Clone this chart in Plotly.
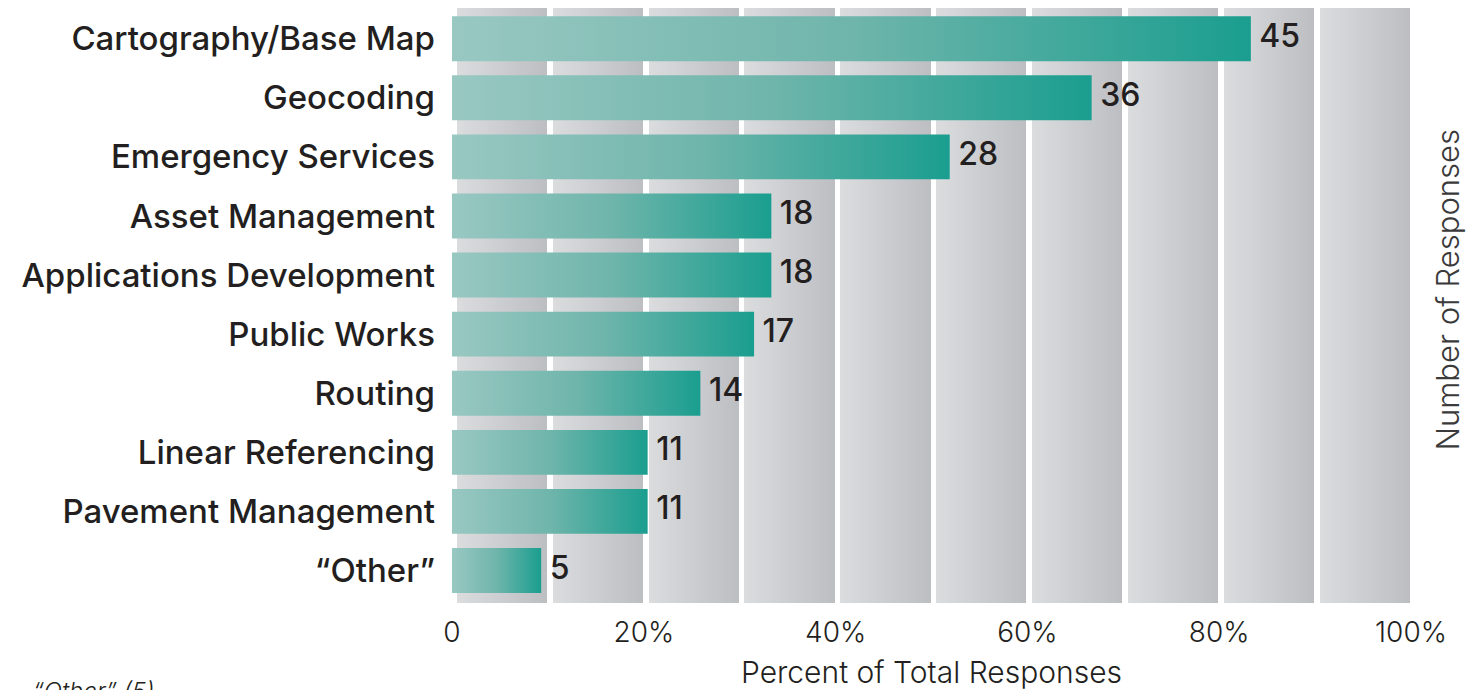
import numpy as np
import plotly.graph_objects as go

# Survey responses by GIS application area
categories = [
    "Cartography/Base Map",
    "Geocoding",
    "Emergency Services",
    "Asset Management",
    "Applications Development",
    "Public Works",
    "Routing",
    "Linear Referencing",
    "Pavement Management",
    "\u201cOther\u201d",
]
responses = [45, 36, 28, 18, 18, 17, 14, 11, 11, 5]
percent_of_total = [83.3, 66.7, 51.9, 33.3, 33.3, 31.5, 25.9, 20.4, 20.4, 9.3]
x_tick_vals = [0, 20, 40, 60, 80, 100]
x_tick_text = ["0", "20%", "40%", "60%", "80%", "100%"]

TEXT = "#231f20"
BAR_SCALE = [[0.0, "#99c8c2"], [0.5, "#6fb5ab"], [1.0, "#1a9e8f"]]
BAND_SCALE = [[0.0, "#dbdcde"], [1.0, "#bdbec2"]]
BAR_HALF = 0.38

fig = go.Figure()

# Decorative background: ten shaded bands, one per 10% step
edges = np.round(np.arange(0, 100.001, 0.1), 3)
centers = (edges[:-1] + edges[1:]) / 2
band_z = []
for c in centers:
    k = int(c // 10)
    lo, hi = 10 * k + 0.5, 10 * k + 9.9
    band_z.append((c - lo) / (hi - lo) if lo <= c <= hi else None)
fig.add_trace(go.Heatmap(
    x=edges, y=[-1.5, 10.5], z=[band_z],
    colorscale=BAND_SCALE, zmin=0, zmax=1, showscale=False,
    hoverinfo="skip",
))

# Bars with a left-to-right teal gradient
for i, (name, pct) in enumerate(zip(categories, percent_of_total)):
    fig.add_trace(go.Scatter(
        x=[0, pct, pct, 0, 0],
        y=[i - BAR_HALF, i - BAR_HALF, i + BAR_HALF, i + BAR_HALF, i - BAR_HALF],
        mode="lines", line=dict(width=0), fill="toself",
        fillgradient=dict(type="horizontal", colorscale=BAR_SCALE),
        name=name, hoverinfo="skip", showlegend=False,
    ))

# Response counts at the end of each bar (invisible markers give the gap)
fig.add_trace(go.Scatter(
    x=percent_of_total, y=list(range(len(categories))),
    mode="markers+text", text=[str(v) for v in responses],
    marker=dict(size=12, color="rgba(0,0,0,0)"),
    textposition="middle right",
    textfont=dict(family="Inter", size=32, color=TEXT, weight=500),
    hoverinfo="skip", showlegend=False,
))

fig.update_xaxes(
    range=[0, 100], tickvals=x_tick_vals, ticktext=x_tick_text,
    showgrid=False, zeroline=False, showline=False, ticks="",
    automargin=False,
    tickfont=dict(family="Inter", size=28, color=TEXT, weight=300),
    ticklabelstandoff=10,
    title=dict(text="Percent of Total Responses", standoff=14,
               font=dict(family="Inter", size=30, color=TEXT, weight=300)),
)
fig.update_yaxes(
    range=[9.55, -0.52], tickvals=list(range(len(categories))), ticktext=categories,
    showgrid=False, zeroline=False, showline=False, ticks="",
    automargin=False,
    tickfont=dict(family="Inter", size=33, color=TEXT, weight=500),
    ticklabelstandoff=16,
)

fig.add_annotation(
    text="Number of Responses", textangle=-90,
    xref="paper", yref="paper", x=1.0, y=0.5, xshift=36, yshift=16,
    showarrow=False, xanchor="center", yanchor="middle",
    font=dict(family="Inter", size=31, color="#3a3a3a", weight=300),
)
fig.add_annotation(
    text="<i>\u201cOther\u201d (5)</i>",
    xref="paper", yref="paper", x=0, y=0, xshift=-421, yshift=-72,
    showarrow=False, xanchor="left", yanchor="top",
    font=dict(family="Inter", size=24, color=TEXT, weight=300),
)

fig.update_layout(
    width=1475, height=690,
    margin=dict(l=452, r=64, t=8, b=87, autoexpand=False),
    paper_bgcolor="white", plot_bgcolor="white",
    showlegend=False,
)

fig.write_html("out.html")
